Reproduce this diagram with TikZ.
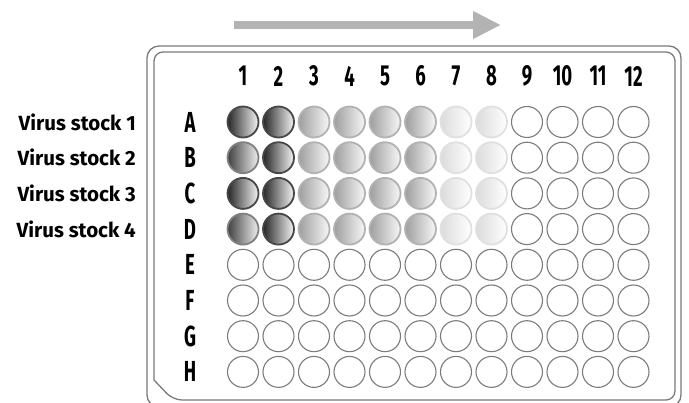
\documentclass[tikz,border=0pt]{standalone}
\usepackage{fontspec}
\setmainfont{Fira Sans}
\usetikzlibrary{arrows.meta}
\definecolor{plategray}{HTML}{7A7A7A}
\definecolor{arrowgray}{HTML}{B3B3B3}
\definecolor{wellgray}{HTML}{7C7C7C}
\newcommand{\narrow}[1]{\scalebox{0.64}[1]{#1}}
\tikzset{
  well/.style={circle, draw=wellgray, line width=1.1pt, minimum size=31pt, inner sep=0pt, fill=white},
  wdark/.style={well, draw=black!72, line width=1.8pt, left color=black!85, right color=black!4},
  wdarkb/.style={well, draw=black!50, line width=1.8pt, left color=black!75, right color=black!6},
  wmid/.style={well, draw=black!30, line width=1.8pt, left color=black!38, right color=black!3},
  wlight/.style={well, draw=black!12, line width=1.8pt, left color=black!14, right color=white},
  collab/.style={font=\fontsize{29}{29}\selectfont\bfseries, inner sep=0pt},
  stocklab/.style={font=\fontsize{20.5}{20.5}\selectfont\bfseries, anchor=east, inner sep=0pt}
}
\begin{document}
\begin{tikzpicture}[x=1pt, y=-1pt]
  \useasboundingbox (0,0) rectangle (689,403);
  % direction of the dilution
  \coordinate (arrS) at (234,25);
  \coordinate (arrE) at (501,25);
  \draw[arrowgray, line width=8.5pt, -{Triangle[length=28pt, width=26pt]}] (arrS) -- (arrE);
  % plate outline (double line, cut corner bottom left)
  \draw[plategray, line width=1.3pt, rounded corners=12pt] (147,46) rectangle (681,407);
  \draw[plategray, line width=1.3pt, rounded corners=9pt]
    (154,380) -- (154,52) -- (675,52) -- (675,400) -- (173,400) [sharp corners]-- cycle;
  % column numbers
  \foreach \c in {1,...,12}
    \node[collab] (c\c) at ({243+35.5*(\c-1)},76) {\narrow{\c}};
  % row letters
  \foreach \r [count=\i] in {A,B,C,D,E,F,G,H}
    \node[collab] (r\r) at (190,{122+35.7*(\i-1)}) {\narrow{\r}};
  % virus stocks
  \foreach \i in {1,...,4}
    \node[stocklab] (v\i) at (136,{122+35.7*(\i-1)}) {Virus stock \i};
  % filled wells, rows A-D
  \foreach \r/\first [count=\i] in {A/wdark,B/wdarkb,C/wdark,D/wdarkb}
    \foreach \c/\s in {1/\first,2/wdark,3/wmid,4/wmid,5/wmid,6/wmid,7/wlight,8/wlight,9/well,10/well,11/well,12/well}
      \node[\s] (w\r\c) at ({243+35.5*(\c-1)},{122+35.7*(\i-1)}) {};
  % empty wells, rows E-H
  \foreach \r [count=\i from 5] in {E,F,G,H}
    \foreach \c in {1,...,12}
      \node[well] (w\r\c) at ({243+35.5*(\c-1)},{122+35.7*(\i-1)}) {};
\end{tikzpicture}
\end{document}
